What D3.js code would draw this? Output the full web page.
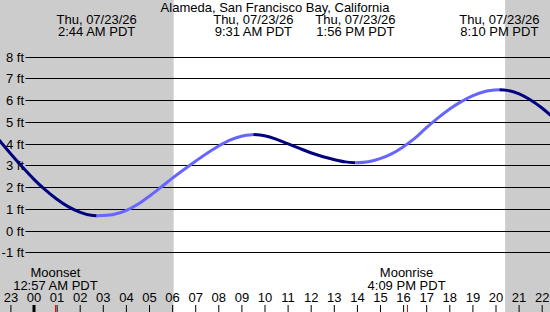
<!DOCTYPE html>
<html>
<head>
<meta charset="utf-8">
<script src="https://cdn.jsdelivr.net/npm/d3@7"></script>
<style>
html,body{margin:0;padding:0;background:#fff;}
svg{display:block;font-family:"Liberation Sans",Arial,sans-serif;}
</style>
</head>
<body>
<svg id="chart" width="550" height="312"></svg>
<script>
// ---- data ----
const title = "Alameda, San Francisco Bay, California";
const tideTimes = [
  "2026-07-22T22:30","2026-07-22T23:00","2026-07-22T23:30","2026-07-23T00:00",
  "2026-07-23T00:30","2026-07-23T01:00","2026-07-23T01:30","2026-07-23T02:00",
  "2026-07-23T02:30","2026-07-23T02:44","2026-07-23T03:00","2026-07-23T03:30",
  "2026-07-23T04:00","2026-07-23T04:30","2026-07-23T05:00","2026-07-23T05:30",
  "2026-07-23T06:00","2026-07-23T06:30","2026-07-23T07:00","2026-07-23T07:30",
  "2026-07-23T08:00","2026-07-23T08:30","2026-07-23T09:00","2026-07-23T09:31",
  "2026-07-23T10:00","2026-07-23T10:30","2026-07-23T11:00","2026-07-23T11:30",
  "2026-07-23T12:00","2026-07-23T12:30","2026-07-23T13:00","2026-07-23T13:30",
  "2026-07-23T13:56","2026-07-23T14:30","2026-07-23T15:00","2026-07-23T15:30",
  "2026-07-23T16:00","2026-07-23T16:30","2026-07-23T17:00","2026-07-23T17:30",
  "2026-07-23T18:00","2026-07-23T18:30","2026-07-23T19:00","2026-07-23T19:30",
  "2026-07-23T20:10","2026-07-23T20:30","2026-07-23T21:00","2026-07-23T21:30",
  "2026-07-23T22:00","2026-07-23T22:30"
];
const tideHeights = [
  4.18, 3.55, 2.95, 2.38,
  1.88, 1.45, 1.10, 0.85,
  0.70, 0.68, 0.69, 0.75,
  0.92, 1.20, 1.57, 1.98,
  2.40, 2.80, 3.18, 3.55,
  3.88, 4.16, 4.34, 4.42,
  4.36, 4.21, 4.00, 3.79,
  3.58, 3.41, 3.27, 3.16,
  3.12, 3.17, 3.31, 3.53,
  3.85, 4.24, 4.72, 5.17,
  5.58, 5.92, 6.20, 6.39,
  6.48, 6.45, 6.30, 6.02,
  5.65, 5.20
];
const extremeTimes = ["2026-07-23T02:44","2026-07-23T09:31","2026-07-23T13:56","2026-07-23T20:10"];
const extremeDates = ["Thu, 07/23/26","Thu, 07/23/26","Thu, 07/23/26","Thu, 07/23/26"];
const extremeLabels = ["2:44 AM PDT","9:31 AM PDT","1:56 PM PDT","8:10 PM PDT"];
const moonTimes = ["2026-07-23T00:57","2026-07-23T16:09"];
const moonNames = ["Moonset","Moonrise"];
const moonLabels = ["12:57 AM PDT","4:09 PM PDT"];
const sunrise = "2026-07-23T06:04";
const sunset = "2026-07-23T20:25";
const yTicks = [-1,0,1,2,3,4,5,6,7,8];
const hourTickStart = "2026-07-22T23:00";
const hourTickEnd = "2026-07-23T22:00";

// ---- chart ----
const parse = d3.timeParse("%Y-%m-%dT%H:%M");
const W = 550, H = 312;
const svg = d3.select("#chart");

const x = d3.scaleTime()
  .domain([parse(hourTickStart), parse(hourTickEnd)])
  .range([10.4, 541.7]);
const y = d3.scaleLinear().domain([-1, 8]).range([252.3, 56.7]);

// night shading
svg.append("rect").attr("x", 0).attr("y", 0)
  .attr("width", x(parse(sunrise))).attr("height", H).attr("fill", "#cccccc");
svg.append("rect").attr("x", x(parse(sunset))).attr("y", 0)
  .attr("width", W - x(parse(sunset))).attr("height", H).attr("fill", "#cccccc");

// y gridlines + labels
const yAxis = d3.axisLeft(y).tickValues(yTicks).tickFormat(d => d + " ft")
  .tickSize(-(W - 25.5)).tickPadding(2);
const gy = svg.append("g").attr("transform", "translate(25.5,0)").call(yAxis);
gy.select(".domain").remove();
gy.selectAll(".tick line").attr("stroke", "#000").attr("stroke-width", 1)
  .attr("x1", 0).attr("x2", W - 25.5);
gy.selectAll(".tick text").attr("font-size", 13).attr("fill", "#000")
  .attr("font-family", "Liberation Sans, Arial, sans-serif").attr("x", -1.5);
gy.selectAll(".tick").attr("transform", d => `translate(0,${Math.round(y(d)) + 0.5})`);

// tide curve
const pts = tideTimes.map((t, i) => ({t: parse(t), v: tideHeights[i]}));
const line = d3.line().x(d => x(d.t)).y(d => y(d.v)).curve(d3.curveMonotoneX);
const extIdx = extremeTimes.map(t => tideTimes.indexOf(t));
const bounds = [0, ...extIdx, pts.length - 1];
for (let k = 0; k < bounds.length - 1; k++) {
  const seg = pts.slice(bounds[k], bounds[k + 1] + 1);
  const rising = seg[seg.length - 1].v > seg[0].v;
  svg.append("path").datum(seg).attr("d", line)
    .attr("fill", "none")
    .attr("stroke", rising ? "#6666ff" : "#000080")
    .attr("stroke-width", 3);
}

// title
svg.append("text").attr("x", W / 2).attr("y", 12).attr("text-anchor", "middle")
  .attr("font-size", 13).text(title);

// extreme labels
extremeTimes.forEach((t, i) => {
  const cx = x(parse(t));
  svg.append("text").attr("x", cx).attr("y", 24).attr("text-anchor", "middle")
    .attr("font-size", 13).text(extremeDates[i]);
  svg.append("text").attr("x", cx).attr("y", 36).attr("text-anchor", "middle")
    .attr("font-size", 13).text(extremeLabels[i]);
});

// hour axis
const hours = d3.timeHour.range(parse(hourTickStart), d3.timeHour.offset(parse(hourTickEnd), 1));
const xAxis = d3.axisBottom(x).tickValues(hours).tickFormat(d3.timeFormat("%H"))
  .tickSize(7).tickPadding(-20);
const gx = svg.append("g").attr("transform", "translate(0,305)").call(xAxis);
gx.select(".domain").remove();
gx.selectAll(".tick line").attr("stroke", "#000")
  .attr("stroke-width", d => d.getHours() === 0 ? 3 : 1);
gx.selectAll(".tick text").attr("font-size", 13).attr("fill", "#000")
  .attr("font-family", "Liberation Sans, Arial, sans-serif")
  .attr("y", -3.5).attr("dy", 0);

// moon events
moonTimes.forEach((t, i) => {
  const mx = x(parse(t));
  svg.append("line").attr("x1", Math.round(mx) + 0.5).attr("x2", Math.round(mx) + 0.5)
    .attr("y1", 305).attr("y2", 312).attr("stroke", "#ff0000").attr("stroke-width", 1);
  svg.append("text").attr("x", mx).attr("y", 277).attr("text-anchor", "middle")
    .attr("font-size", 13).text(moonNames[i]);
  svg.append("text").attr("x", mx).attr("y", 289.5).attr("text-anchor", "middle")
    .attr("font-size", 13).text(moonLabels[i]);
});
</script>
</body>
</html>
